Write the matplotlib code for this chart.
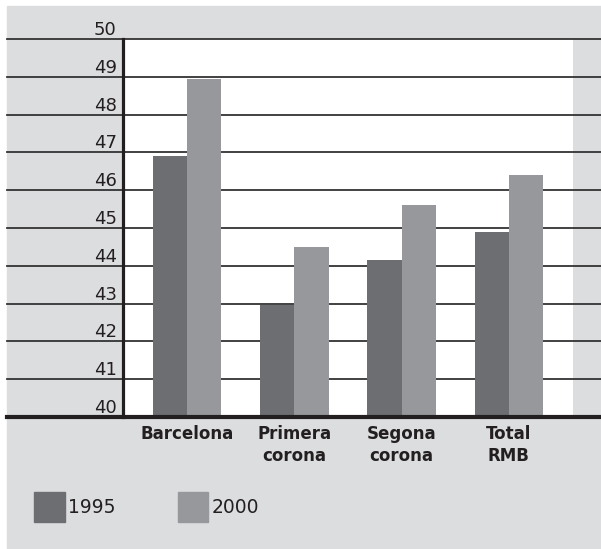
import matplotlib.pyplot as plt
from matplotlib.patches import Rectangle, Patch

categories = ['Barcelona', 'Primera\ncorona', 'Segona\ncorona', 'Total\nRMB']
values_1995 = [46.9, 42.95, 44.15, 44.9]
values_2000 = [48.95, 44.5, 45.6, 46.4]
series = ['1995', '2000']
yticks = list(range(40, 51))

bg = '#dcdddf'
dark = '#6d6e71'
light = '#97989b'
ink = '#231f20'

fig = plt.figure(figsize=(6.01, 5.49), dpi=100)
fig.patch.set_facecolor('white')
fig.patches.append(Rectangle((7 / 601, 0), 1 - 7 / 601, 543 / 549,
                             transform=fig.transFigure, color=bg, zorder=-5))

# white plotting area
ax = fig.add_axes([123 / 601, 1 - 417 / 549, 450 / 601, 378 / 549])
ax.set_facecolor('white')
ax.set_xlim(-0.596, -0.596 + 450 / 107.3)
ax.set_ylim(40, 50)

w = 0.32
x = range(len(categories))
ax.bar([i - w / 2 for i in x], [v - 40 for v in values_1995], w, bottom=40,
       color=dark, zorder=2)
ax.bar([i + w / 2 for i in x], [v - 40 for v in values_2000], w, bottom=40,
       color=light, zorder=2)

# gridlines run across the whole grey panel
x0 = (7 - 123) / 450
x1 = (601 - 123) / 450
for t in yticks[1:]:
    ax.axhline(t, xmin=x0, xmax=x1, color='#333333', lw=1.3, clip_on=False, zorder=1)
ax.axhline(40, xmin=x0, xmax=x1, color=ink, lw=3, clip_on=False, zorder=3)

for s in ['top', 'right', 'bottom']:
    ax.spines[s].set_visible(False)
ax.spines['left'].set_linewidth(2.3)
ax.spines['left'].set_color(ink)
ax.spines['left'].set_zorder(3)

ax.set_yticks(yticks)
ax.set_yticklabels([str(t) for t in yticks])
ax.tick_params(axis='y', length=0, pad=4.5, labelsize=13, labelcolor=ink)
for lbl in ax.get_yticklabels():
    lbl.set_verticalalignment('bottom')

ax.set_xticks(list(x))
ax.set_xticklabels(categories, fontweight='bold', fontsize=12, linespacing=1.25)
ax.tick_params(axis='x', length=0, pad=6, labelcolor=ink)

handles = [Patch(color=dark), Patch(color=light)]
fig.legend(handles, series, loc='upper left', bbox_to_anchor=(34 / 601, 1 - 492 / 549),
           ncol=2, frameon=False, fontsize=13.5, handlelength=1.63, handleheight=2.1,
           handletextpad=0.2, columnspacing=3.3, borderpad=0, borderaxespad=0,
           labelcolor=ink)

plt.savefig('out.png', dpi=100)
